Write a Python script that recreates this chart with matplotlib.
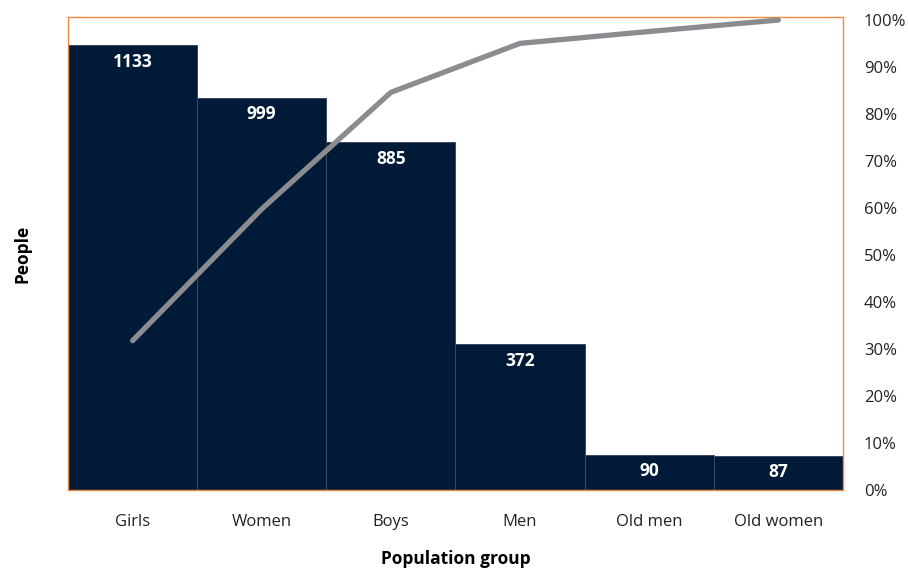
import numpy as np
import matplotlib.pyplot as plt
from matplotlib.ticker import PercentFormatter

plt.rcParams['font.family'] = ['Open Sans', 'DejaVu Sans']

# Population counts per group
groups = ["Girls", "Women", "Boys", "Men", "Old men", "Old women"]
people = [1133, 999, 885, 372, 90, 87]

# Cumulative share for the pareto line
cum_pct = np.cumsum(people) / np.sum(people) * 100

navy = "#001a38"
orange = "#f08a3c"
gray_line = "#8b8c90"

fig = plt.figure(figsize=(9.08, 5.71), dpi=100)
ax = fig.add_axes([0.0749, 0.1419, 0.8535, 0.8283])

x = np.arange(len(groups))
bars = ax.bar(x, people, width=1.0, color=navy, edgecolor="#3a4960", linewidth=0.7)
ax.set_xlim(-0.5, len(groups) - 0.5)
ax.set_ylim(0, 1204)
ax.set_yticks([])
ax.set_xticks(x)
ax.set_xticklabels(groups, fontsize=12, color="#222222")
ax.tick_params(axis="x", length=0, pad=17)

for b, v in zip(bars, people):
    ax.annotate(str(v), (b.get_x() + b.get_width() / 2, v), xytext=(0, -12),
                textcoords="offset points", ha="center", va="center",
                color="white", fontsize=12.5, fontweight="bold")

for s in ax.spines.values():
    s.set_color(orange)
    s.set_linewidth(1.0)

ax.set_ylabel("People", fontsize=12.5, fontweight="bold", labelpad=26)
ax.set_xlabel("Population group", fontsize=12.5, fontweight="bold", labelpad=15)

ax2 = ax.twinx()
ax2.plot(x, cum_pct, color=gray_line, linewidth=3.8, solid_capstyle="round",
         solid_joinstyle="round")
ax2.set_ylim(0, 100.64)
ax2.set_yticks(np.arange(0, 101, 10))
ax2.yaxis.set_major_formatter(PercentFormatter(decimals=0))
ax2.tick_params(axis="y", length=0, pad=15, labelsize=12, labelcolor="#222222")
for s in ax2.spines.values():
    s.set_visible(False)

fig.savefig("out.png", dpi=100)
